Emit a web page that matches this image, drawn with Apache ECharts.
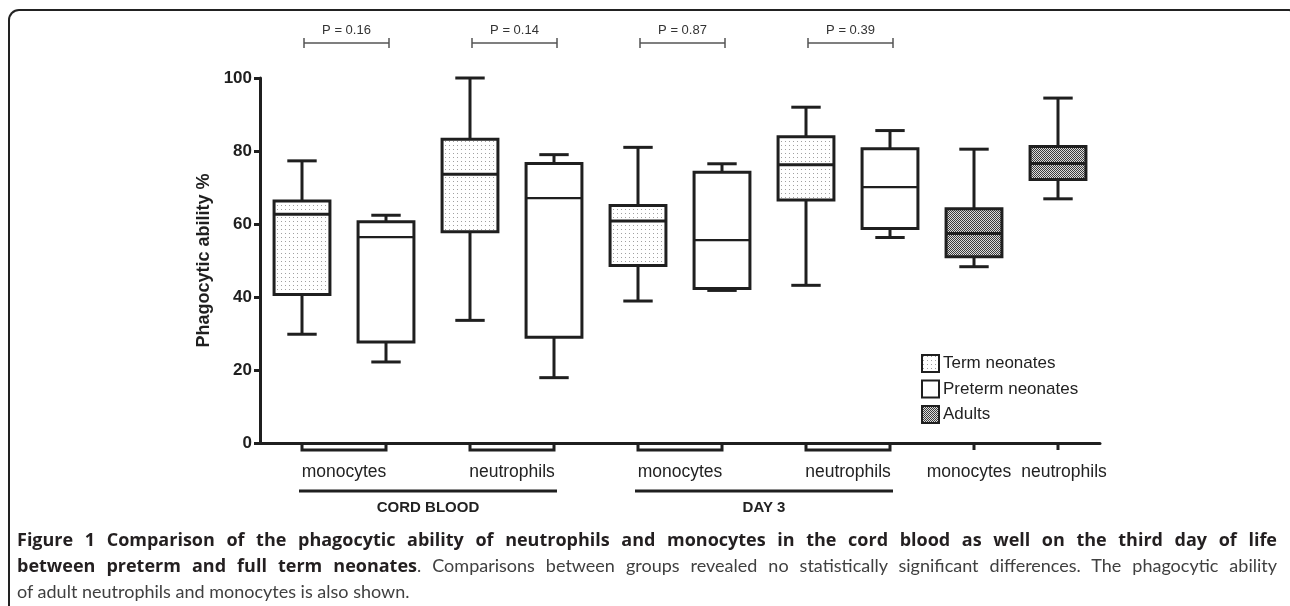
<!DOCTYPE html>
<html>
<head>
<meta charset="utf-8">
<script src="https://cdn.jsdelivr.net/npm/echarts@6/dist/echarts.min.js"></script>
<style>
html,body{margin:0;padding:0;background:#fff;}
#wrap{position:relative;width:1290px;height:606px;overflow:hidden;}
#chart{position:absolute;left:0;top:0;width:1290px;height:606px;}
#frame{position:absolute;left:8px;top:9px;width:1292px;height:640px;box-sizing:border-box;border-top:2.5px solid #222;border-left:2.5px solid #222;border-right:2.5px solid #222;border-top-left-radius:11px;border-top-right-radius:11px;pointer-events:none;}
#caption{position:absolute;left:17px;top:526px;width:1260px;font-family:Lato,"Open Sans",sans-serif;font-size:18px;color:#404040;}
.ln{height:26px;line-height:26px;}
.j{text-align:justify;text-align-last:justify;}
#caption b{color:#231f20;font-weight:700;font-family:"Open Sans",Lato,sans-serif;font-size:18px;}
</style>
</head>
<body>
<div id="wrap">
  <div id="chart"></div>
  <div id="frame"></div>
  <div id="caption">
    <div class="ln j"><b>Figure 1 Comparison of the phagocytic ability of neutrophils and monocytes in the cord blood as well on the third day of life</b></div>
    <div class="ln j"><b>between preterm and full term neonates</b>. Comparisons between groups revealed no statistically significant differences. The phagocytic ability</div>
    <div class="ln">of adult neutrophils and monocytes is also shown.</div>
  </div>
</div>
<script>
// ---------- data ----------
const categories = ['CB mono term','CB mono preterm','CB neut term','CB neut preterm','D3 mono term','D3 mono preterm','D3 neut term','D3 neut preterm','Adult mono','Adult neut'];
const yTicks = [0, 20, 40, 60, 80, 100];
const yAxisName = 'Phagocytic ability %';

// [min, Q1, median, Q3, max]
const termCategories = ['CB mono term','CB neut term','D3 mono term','D3 neut term'];
const termValues = [[29.8,40.7,62.7,66.3,77.3],[33.6,57.9,73.6,83.2,100],[38.9,48.6,60.8,65.1,81.0],[43.2,66.6,76.2,83.9,92.0]];
const pretermCategories = ['CB mono preterm','CB neut preterm','D3 mono preterm','D3 neut preterm'];
const pretermValues = [[22.2,27.7,56.4,60.6,62.4],[17.9,29.0,67.1,76.6,79.0],[41.8,42.3,55.6,74.2,76.5],[56.3,58.8,70.1,80.6,85.6]];
const adultCategories = ['Adult mono','Adult neut'];
const adultValues = [[48.3,51.0,57.4,64.2,80.5],[66.9,72.2,76.6,81.2,94.5]];

const legendNames = ['Term neonates','Preterm neonates','Adults'];
const pLabels = ['P = 0.16','P = 0.14','P = 0.87','P = 0.39'];
const pPairs = [['CB mono term','CB mono preterm'],['CB neut term','CB neut preterm'],['D3 mono term','D3 mono preterm'],['D3 neut term','D3 neut preterm']];
const cellLabels = ['monocytes','neutrophils','monocytes','neutrophils','monocytes','neutrophils'];
const cellSpans = [['CB mono term','CB mono preterm'],['CB neut term','CB neut preterm'],['D3 mono term','D3 mono preterm'],['D3 neut term','D3 neut preterm'],['Adult mono','Adult mono'],['Adult neut','Adult neut']];
const groupLabels = ['CORD BLOOD','DAY 3'];
const groupSpans = [['CB mono term','CB neut preterm'],['D3 mono term','D3 neut preterm']];

// ---------- styles ----------
const INK = '#1f1f1f';
const FONT = '"Liberation Sans", Arial, sans-serif';
function makePattern(w, h, draw) {
  const c = document.createElement('canvas');
  c.width = w; c.height = h;
  draw(c.getContext('2d'));
  return { image: c, repeat: 'repeat' };
}
const termFill = makePattern(4, 4, g => {
  g.fillStyle = '#ffffff'; g.fillRect(0, 0, 4, 4);
  g.fillStyle = '#a0a0a0'; g.fillRect(1, 1, 1, 1);
});
const pretermFill = '#ffffff';
const adultFill = makePattern(2, 2, g => {
  g.fillStyle = '#dcdcdc'; g.fillRect(0, 0, 2, 2);
  g.fillStyle = '#3c3c3c'; g.fillRect(0, 0, 1, 1); g.fillRect(1, 1, 1, 1);
});

const idx = name => categories.indexOf(name);

function boxSeries(name, cats, vals, fill, medianWidth) {
  return {
    type: 'custom',
    name: name,
    coordinateSystem: 'cartesian2d',
    silent: true,
    itemStyle: { color: fill, borderColor: INK, borderWidth: 2 },
    encode: { x: 0, y: [1, 2, 3, 4, 5] },
    data: vals.map((v, i) => [idx(cats[i])].concat(v)),
    renderItem: function (params, api) {
      const x = api.value(0);
      const pt = k => api.coord([x, api.value(k)]);
      const lo = pt(1);
      const cx = lo[0], yMin = lo[1];
      const yQ1 = pt(2)[1], yMed = pt(3)[1], yQ3 = pt(4)[1], yMax = pt(5)[1];
      const band = api.size([1, 0])[0];
      const bw = band * 0.665, cw = band * 0.35;
      const ls = { stroke: INK, lineWidth: 3 };
      return {
        type: 'group',
        children: [
          { type: 'line', shape: { x1: cx, y1: yMax, x2: cx, y2: yQ3 }, style: ls },
          { type: 'line', shape: { x1: cx - cw / 2, y1: yMax, x2: cx + cw / 2, y2: yMax }, style: ls },
          { type: 'line', shape: { x1: cx, y1: yQ1, x2: cx, y2: yMin }, style: ls },
          { type: 'line', shape: { x1: cx - cw / 2, y1: yMin, x2: cx + cw / 2, y2: yMin }, style: ls },
          { type: 'rect', shape: { x: cx - bw / 2, y: yQ3, width: bw, height: yQ1 - yQ3 }, style: { fill: fill, stroke: INK, lineWidth: 3 } },
          { type: 'line', shape: { x1: cx - bw / 2, y1: yMed, x2: cx + bw / 2, y2: yMed }, style: { stroke: INK, lineWidth: medianWidth } }
        ]
      };
    }
  };
}

// P-value brackets above the plot
const pSeries = {
  type: 'custom', coordinateSystem: 'cartesian2d', silent: true, clip: false,
  encode: { x: 0, y: 1 },
  data: pPairs.map((p, i) => [idx(p[0]), idx(p[1]), i]),
  renderItem: function (params, api) {
    const a = api.coord([api.value(0), yTicks[yTicks.length - 1]]);
    const b = api.coord([api.value(1), yTicks[yTicks.length - 1]]);
    const x1 = a[0] + 2, x2 = b[0] + 3;
    const y = a[1] - 35;
    const st = { stroke: '#555', lineWidth: 1.5 };
    return {
      type: 'group',
      children: [
        { type: 'line', shape: { x1: x1, y1: y, x2: x2, y2: y }, style: st },
        { type: 'line', shape: { x1: x1, y1: y - 5, x2: x1, y2: y + 5 }, style: st },
        { type: 'line', shape: { x1: x2, y1: y - 5, x2: x2, y2: y + 5 }, style: st },
        { type: 'text', style: { text: pLabels[api.value(2)], x: (x1 + x2) / 2, y: y - 13, align: 'center', verticalAlign: 'middle', fontSize: 13, fontFamily: FONT, fill: '#333' } }
      ]
    };
  }
};

// Grouped x-axis labels with brackets under the axis
const cellSeries = {
  type: 'custom', coordinateSystem: 'cartesian2d', silent: true, clip: false,
  encode: { x: 0, y: 1 },
  data: cellSpans.map((s, i) => [idx(s[0]), idx(s[1]), i]),
  renderItem: function (params, api) {
    const a = api.coord([api.value(0), yTicks[0]]);
    const b = api.coord([api.value(1), yTicks[0]]);
    const y0 = a[1], yb = a[1] + 7;
    const st = { stroke: INK, lineWidth: 3 };
    const ch = [];
    let nudge = 0;
    if (api.value(0) !== api.value(1)) {
      ch.push({ type: 'polyline', shape: { points: [[a[0], y0], [a[0], yb], [b[0], yb], [b[0], y0]] }, style: { stroke: INK, lineWidth: 3, fill: null, lineJoin: 'miter' } });
    } else {
      ch.push({ type: 'line', shape: { x1: a[0], y1: y0, x2: a[0], y2: yb }, style: st });
      // single-category labels sit close together: spread them slightly apart
      nudge = api.value(0) === categories.length - 1 ? 6 : -5;
    }
    ch.push({ type: 'text', style: { text: cellLabels[api.value(2)], x: (a[0] + b[0]) / 2 + nudge, y: y0 + 29, align: 'center', verticalAlign: 'middle', fontSize: 17.5, fontFamily: FONT, fill: '#222' } });
    return { type: 'group', children: ch };
  }
};

// Group underline + group titles
const groupSeries = {
  type: 'custom', coordinateSystem: 'cartesian2d', silent: true, clip: false,
  encode: { x: 0, y: 1 },
  data: groupSpans.map((s, i) => [idx(s[0]), idx(s[1]), i]),
  renderItem: function (params, api) {
    const a = api.coord([api.value(0), yTicks[0]]);
    const b = api.coord([api.value(1), yTicks[0]]);
    const yl = a[1] + 48;
    return {
      type: 'group',
      children: [
        { type: 'line', shape: { x1: a[0] - 3, y1: yl, x2: b[0] + 3, y2: yl }, style: { stroke: INK, lineWidth: 3 } },
        { type: 'text', style: { text: groupLabels[api.value(2)], x: (a[0] + b[0]) / 2, y: yl + 17, align: 'center', verticalAlign: 'middle', fontSize: 15, fontWeight: 'bold', fontFamily: FONT, fill: '#222' } }
      ]
    };
  }
};

const chart = echarts.init(document.getElementById('chart'), null, { renderer: 'canvas' });
chart.setOption({
  animation: false,
  backgroundColor: 'transparent',
  grid: { left: 260, right: 190, top: 78, bottom: 163 },
  legend: {
    orient: 'vertical', left: 916, top: 349,
    itemWidth: 17, itemHeight: 17, itemGap: 6.5, icon: 'rect',
    selectedMode: false,
    textStyle: { fontFamily: FONT, fontSize: 17, color: '#222', padding: [0, 0, 0, -1] },
    data: [
      { name: legendNames[0], itemStyle: { color: termFill, borderColor: INK, borderWidth: 2 } },
      { name: legendNames[1], itemStyle: { color: pretermFill, borderColor: INK, borderWidth: 2 } },
      { name: legendNames[2], itemStyle: { color: adultFill, borderColor: INK, borderWidth: 2 } }
    ]
  },
  xAxis: {
    type: 'category', data: categories, boundaryGap: true,
    axisLine: { lineStyle: { color: INK, width: 3 } },
    axisTick: { show: false }, axisLabel: { show: false }, splitLine: { show: false }
  },
  yAxis: {
    type: 'value', min: yTicks[0], max: yTicks[yTicks.length - 1], interval: yTicks[1] - yTicks[0],
    name: yAxisName, nameLocation: 'middle', nameGap: 41,
    nameTextStyle: { fontFamily: FONT, fontWeight: 'bold', fontSize: 18, color: INK },
    axisLine: { show: true, lineStyle: { color: INK, width: 3 } },
    axisTick: { show: true, length: 6, lineStyle: { color: INK, width: 3 } },
    axisLabel: { fontFamily: FONT, fontWeight: 'bold', fontSize: 17, color: INK, margin: 8 },
    splitLine: { show: false }
  },
  series: [
    boxSeries(legendNames[0], termCategories, termValues, termFill, 3),
    boxSeries(legendNames[1], pretermCategories, pretermValues, pretermFill, 2.2),
    boxSeries(legendNames[2], adultCategories, adultValues, adultFill, 3),
    pSeries, cellSeries, groupSeries
  ]
});
</script>
</body>
</html>
